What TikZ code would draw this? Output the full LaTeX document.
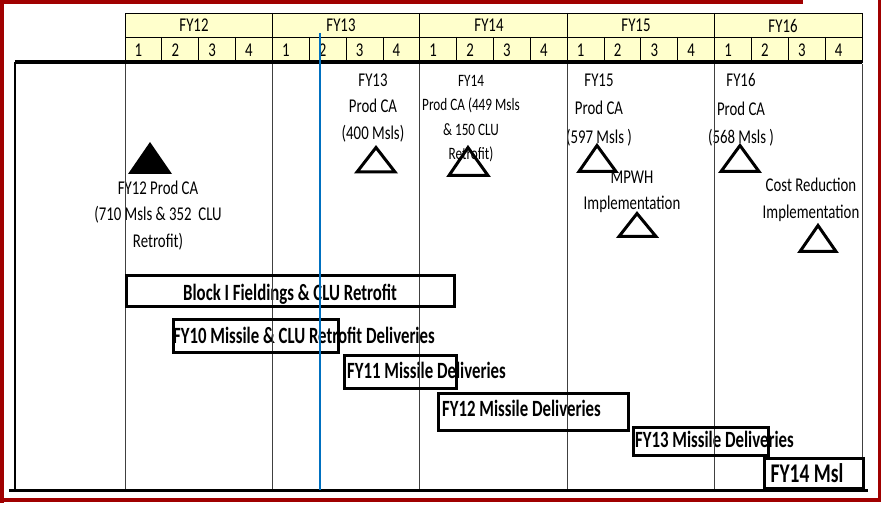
\documentclass[tikz,border=0pt]{standalone}
\usepackage{fontspec}
\setmainfont{Carlito}[FakeStretch=0.76]
\newfontfamily\barfont{Carlito}[FakeStretch=0.72]
\definecolor{framered}{HTML}{A00000}
\definecolor{hdryellow}{HTML}{FFFFCC}
\definecolor{nowblue}{HTML}{0070C0}
\definecolor{gridgray}{HTML}{404040}
\begin{document}
\begin{tikzpicture}[x=1pt,y=-1pt,
  lbl/.style={font=\fontsize{19.5}{26.5}\selectfont, align=center, inner sep=0pt},
  lblwide/.style={font=\fontsize{19.5}{28.5}\selectfont, align=center, inner sep=0pt},
  lblsmall/.style={font=\fontsize{17.4}{24.3}\selectfont, align=center, inner sep=0pt},
  hdrtxt/.style={font=\fontsize{19.5}{20}\selectfont, inner sep=0pt},
  bartxt/.style={font=\barfont\bfseries\fontsize{23.3}{26}\selectfont, inner sep=0pt, anchor=base west},
  bigbartxt/.style={font=\barfont\bfseries\fontsize{27}{30}\selectfont, inner sep=0pt, anchor=base},
  barbox/.style={draw, line width=3.2pt, inner sep=0pt, rectangle},
  tri/.style={draw, line width=3pt, line join=miter},
  hdrline/.style={draw=black, line width=0.9pt},
  gridline/.style={draw=gridgray, line width=0.9pt}
]
\useasboundingbox (0,0) rectangle (884,505);
% header band
\fill[hdryellow] (125,13) rectangle (862,62);
\draw[hdrline] (125,13) rectangle (862,62);
\draw[hdrline] (125,37) -- (862,37);
\foreach \i in {1,...,4} \draw[hdrline] (125+147.4*\i,13) -- (125+147.4*\i,62);
\foreach \i in {0,...,4} \foreach \q in {1,2,3}
  \draw[hdrline] (125+147.4*\i+36.85*\q,37) -- (125+147.4*\i+36.85*\q,62);
% year labels
\node[hdrtxt] (y12) at (194,25.5) {FY12};
\node[hdrtxt] (y13) at (341,25.5) {FY13};
\node[hdrtxt] (y14) at (489,25.5) {FY14};
\node[hdrtxt] (y15) at (636,25.5) {FY15};
\node[hdrtxt] (y16) at (783,25.5) {FY16};
% quarter labels
\foreach \i in {0,...,4} \foreach \q in {1,2,3,4}
  \node[hdrtxt] (q\i\q) at (125+147.4*\i+36.85*\q-18.4-5,50) {\q};
% milestone texts
\node[lbl] (t12) at (158,215.5) {FY12 Prod CA\\(710 Msls \& 352~ CLU\\Retrofit)};
\node[lbl] (t13) at (373,108) {FY13\\Prod CA\\(400 Msls)};
\node[lblsmall] (t14) at (471,118.5) {FY14\\Prod CA (449 Msls\\\& 150 CLU\\Retrofit)};
\node[lblwide] (t15) at (599,110) {FY15\\Prod CA\\(597 Msls )};
\node[lblwide] (t16) at (741,110) {FY16\\Prod CA\\(568 Msls )};
\node[lbl] (tmp) at (632,192) {MPWH\\Implementation};
\node[lbl] (tcr) at (811,200) {Cost Reduction\\Implementation};
% bar texts
\node[bartxt] (b0t) at (183,300.5) {Block I Fieldings \& CLU Retrofit};
\node[bartxt] (b1t) at (173,343) {FY10 Missile \& CLU Retrofit Deliveries};
\node[bartxt] (b2t) at (347,378) {FY11 Missile Deliveries};
\node[bartxt] (b3t) at (442,416.5) {FY12 Missile Deliveries};
\node[bartxt] (b4t) at (635,447) {FY13 Missile Deliveries};
\node[bigbartxt] (b5t) at (807,482) {FY14 Msl};
% body grid
\foreach \i in {0,...,5} \draw[gridline] (125+147.4*\i,64) -- (125+147.4*\i,490);
\draw[black, line width=1.2pt] (15,62) -- (15,490);
\draw[black, line width=4pt] (15,62.5) -- (862,62.5);
\draw[black, line width=3.5pt] (9,490.5) -- (868,490.5);
% bars
\node[barbox, minimum width=327.8pt, minimum height=30.8pt] (b0) at (290.5,291) {};
\node[barbox, minimum width=164.8pt, minimum height=32.8pt] (b1) at (256,336) {};
\node[barbox, minimum width=111.8pt, minimum height=32.8pt] (b2) at (400.5,372) {};
\node[barbox, minimum width=189.8pt, minimum height=36.8pt] (b3) at (533.5,412) {};
\node[barbox, minimum width=134.8pt, minimum height=27.8pt] (b4) at (701,441.5) {};
\node[barbox, minimum width=98.8pt, minimum height=29.8pt] (b5) at (814,473.5) {};
% triangles
\fill[black] (150,142) -- (172,174) -- (128,174) -- cycle;
\draw[tri] (376,147.5) -- (395,172) -- (357,172) -- cycle;
\draw[tri] (468,147.5) -- (488,175.5) -- (449,175.5) -- cycle;
\draw[tri] (597,145.5) -- (616,171.5) -- (579,171.5) -- cycle;
\draw[tri] (637,213.5) -- (656,236.5) -- (619,236.5) -- cycle;
\draw[tri] (740,145.5) -- (759,171.5) -- (721,171.5) -- cycle;
\draw[tri] (818,225.5) -- (836,251.5) -- (800,251.5) -- cycle;
% status line
\draw[nowblue, line width=2.5pt] (320,33) -- (320,490);
% red frame
\fill[framered] (0,0) rectangle (4,503);
\fill[framered] (0,0) rectangle (803,4);
\fill[framered] (877.5,0) rectangle (881,502);
\fill[framered] (0,497.5) rectangle (881,502);
\end{tikzpicture}
\end{document}
